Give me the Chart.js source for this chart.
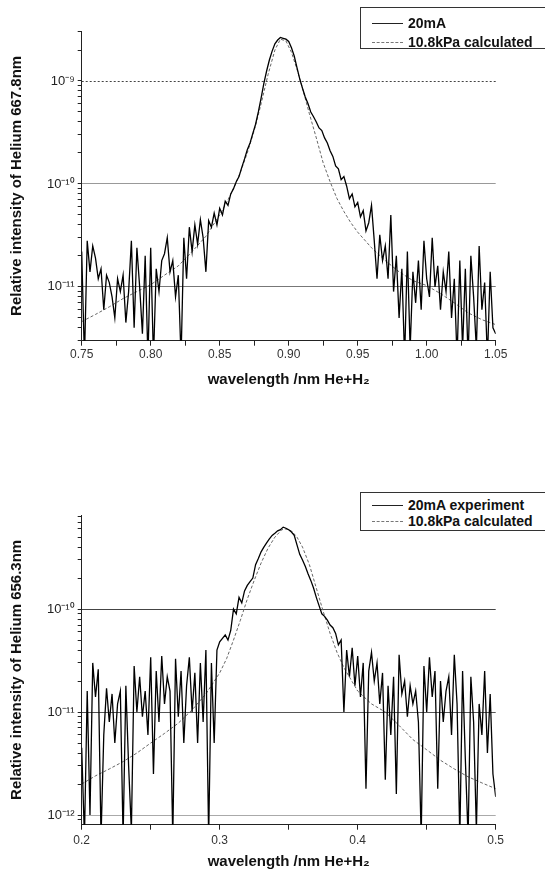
<!DOCTYPE html>
<html>
<head>
<meta charset="utf-8">
<title>Helium line profiles</title>
<script src="https://cdn.jsdelivr.net/npm/chart.js@4.4.1/dist/chart.umd.min.js"></script>
<style>
  html, body { margin: 0; padding: 0; background: #fff; }
  body { width: 545px; height: 872px; position: relative; overflow: hidden; font-family: "Liberation Sans", Arial, sans-serif; }
  canvas { position: absolute; left: 0; }
  #topChart { top: 0; }
  #bottomChart { top: 430px; }
  .legend { position: absolute; left: 360px; width: 200px; border: 1px solid #333; background: #fff; box-sizing: border-box; }
  .legend .row { position: absolute; left: 0; height: 18px; display: flex; align-items: center; font: bold 14px "Liberation Sans", Arial, sans-serif; color: #111; white-space: nowrap; }
  .legend .swatch { width: 31px; margin: 0 5px 0 11px; border-top: 1px solid #222; }
  .legend .swatch.calc { border-top: 1px dashed #777; }
</style>
</head>
<body>
<canvas id="topChart" width="545" height="400"></canvas>
<canvas id="bottomChart" width="545" height="442"></canvas>

<div class="legend" style="top:7px;height:42px">
  <div class="row" style="top:6px"><span class="swatch"></span>20mA</div>
  <div class="row" style="top:25px"><span class="swatch calc"></span>10.8kPa calculated</div>
</div>
<div class="legend" style="top:492px;height:39px">
  <div class="row" style="top:3px"><span class="swatch"></span>20mA experiment</div>
  <div class="row" style="top:19px"><span class="swatch calc"></span>10.8kPa calculated</div>
</div>

<script>
// intensities below are in units of 1e-12
const UNIT = 1e-12;

// ---- He 667.8 nm panel ----
const topStart = 0.75, topStep = 0.002;
const topExp = [
  22, 2, 28, 14, 25, 19, 12, 15, 6, 13,
  11, 8, 5, 12, 9, 13, 4.5, 9, 28, 4,
  24, 10, 3.5, 20, 2, 24, 2, 15, 9, 18,
  21, 30, 14, 18, 8, 13, 2, 30, 12, 38,
  22, 40, 26, 45, 30, 14, 44, 38, 52, 40,
  58, 50, 68, 62, 80, 90, 105, 118, 145, 175,
  215, 250, 310, 380, 500, 680, 950, 1250, 1600, 1950,
  2300, 2500, 2650, 2600, 2550, 2420, 2100, 1750, 1350, 1050,
  850, 700, 600, 500, 450, 400, 350, 330, 280, 250,
  210, 185, 150, 140, 110, 118, 95, 72, 80, 60,
  66, 48, 55, 35, 42, 62, 28, 12, 32, 18,
  25, 12, 50, 9, 20, 5, 15, 2, 22, 2.5,
  14, 7, 18, 6, 28, 12, 8, 30, 10, 16,
  6, 14, 9, 22, 5, 12, 2, 18, 2.5, 15,
  2, 20, 8, 2.5, 25, 6, 11, 2, 14, 4, 3.5
];
const topCalcX = [0.75, 0.76, 0.77, 0.78, 0.79, 0.80, 0.81, 0.82, 0.83, 0.84, 0.85,
  0.855, 0.86, 0.865, 0.87, 0.875, 0.88, 0.885, 0.89, 0.894, 0.898, 0.902, 0.906, 0.91,
  0.915, 0.92, 0.925, 0.93, 0.935, 0.94, 0.945, 0.95,
  0.96, 0.97, 0.98, 0.99, 1.00, 1.01, 1.02, 1.03, 1.04, 1.05];
const topCalcY = [4.6, 5.4, 6.4, 7.7, 9.0, 10.5, 13, 16, 22, 31, 50,
  66, 90, 130, 200, 330, 600, 1150, 2000, 2550, 2450, 1900, 1300, 850,
  480, 280, 160, 105, 72, 54, 42, 34,
  24, 18, 14, 11.5, 10.3, 8.6, 7.0, 5.6, 4.8, 4.3];
const topXMajor = [0.75, 0.80, 0.85, 0.90, 0.95, 1.00, 1.05];
const topXLabels = ['0.75', '0.80', '0.85', '0.90', '0.95', '1.00', '1.05'];
const topXMinor = [0.775, 0.825, 0.875, 0.925, 0.975, 1.025];
const topYDecades = [1e-11, 1e-10, 1e-9];
const topYLabels = ['10⁻¹¹', '10⁻¹⁰', '10⁻⁹'];

// ---- He 656.3 nm panel ----
const botStart = 0.20, botStep = 0.002;
const botExp = [
  4.5, 0.6, 16, 1.0, 30, 14, 26, 0.6, 6, 17,
  8, 15, 5, 12, 16, 0.6, 18, 3, 0.7, 28,
  10, 22, 9, 16, 6, 34, 2.5, 25, 8, 35,
  12, 22, 16, 0.6, 33, 9, 25, 5, 18, 34,
  10, 24, 5, 30, 8, 40, 0.6, 30, 5, 40,
  48, 52, 56, 50, 62, 100, 90, 130, 115, 150,
  170, 185, 200, 270, 310, 360, 400, 440, 480, 520,
  545, 575, 590, 625, 610, 590, 560, 520, 420, 340,
  300, 260, 220, 190, 160, 130, 108, 90, 85, 78,
  70, 66, 58, 45, 50, 10, 40, 22, 42, 18,
  35, 14, 30, 1.8, 25, 38, 20, 30, 12, 24,
  2.2, 18, 6, 22, 1.6, 36, 15, 20, 9, 18,
  12, 16, 8, 0.6, 28, 10, 34, 14, 25, 1.8,
  20, 8, 16, 22, 6, 36, 12, 0.6, 25, 3.5,
  0.6, 22, 8, 0.7, 12, 6, 25, 4, 15, 2.5, 1.5
];
const botCalcX = [0.20, 0.21, 0.22, 0.23, 0.24, 0.25, 0.26, 0.27, 0.28, 0.29, 0.30,
  0.305, 0.31, 0.315, 0.32, 0.325, 0.33, 0.335, 0.34, 0.345,
  0.348, 0.352, 0.356, 0.36, 0.365, 0.37, 0.375, 0.38, 0.385, 0.39,
  0.40, 0.41, 0.42, 0.43, 0.44, 0.45, 0.46, 0.47, 0.48, 0.49, 0.50];
const botCalcY = [2.0, 2.4, 2.8, 3.3, 4.0, 5.0, 6.2, 7.8, 10.5, 15, 24,
  33, 50, 78, 125, 190, 280, 390, 500, 590,
  600, 575, 500, 400, 270, 160, 95, 58, 38, 27,
  16, 12, 10, 7.4, 5.4, 4.3, 3.4, 2.8, 2.35, 2.05, 1.8];
const botXMajor = [0.2, 0.3, 0.4, 0.5];
const botXLabels = ['0.2', '0.3', '0.4', '0.5'];
const botXMinor = [0.25, 0.35, 0.45];
const botYDecades = [1e-12, 1e-11, 1e-10];
const botYLabels = ['10⁻¹²', '10⁻¹¹', '10⁻¹⁰'];

Chart.defaults.font.family = '"Liberation Sans", Arial, sans-serif';

function expPoints(start, step, vals) {
  return vals.map((v, i) => ({ x: +(start + i * step).toFixed(4), y: v * UNIT }));
}

function calcPoints(xs, ys) {
  return xs.map((x, i) => ({ x: x, y: ys[i] * UNIT }));
}

function findIdx(list, v) {
  return list.findIndex(d => Math.abs(d - v) <= Math.abs(d) * 1e-6);
}

// 1..9 x each decade, major only on the decades
function logTicks(min, max) {
  const out = [];
  for (let e = -13; e <= -8; e++) {
    for (let m = 1; m <= 9; m++) {
      const v = Number(m + 'e' + e);
      if (v >= min && v <= max) out.push({ value: v, major: m === 1 });
    }
  }
  return out;
}

// one gridline drawn dashed (the 1e-9 line on the upper panel)
const dashedGrid = {
  id: 'dashedGrid',
  beforeDatasetsDraw(chart, args, opts) {
    if (!opts.value) return;
    const { ctx, chartArea: a, scales } = chart;
    const py = Math.round(scales.y.getPixelForValue(opts.value)) + 0.5;
    ctx.save();
    ctx.strokeStyle = opts.color;
    ctx.lineWidth = 1;
    ctx.setLineDash(opts.dash);
    ctx.beginPath();
    ctx.moveTo(a.left, py);
    ctx.lineTo(a.right, py);
    ctx.stroke();
    ctx.restore();
  }
};

function spectrumChart(id, c) {
  const el = document.getElementById(id);
  if (!el || typeof Chart === 'undefined') return;
  new Chart(el.getContext('2d'), {
    type: 'line',
    data: {
      datasets: [
        {
          label: c.expLabel,
          data: expPoints(c.start, c.step, c.exp),
          borderColor: '#000',
          borderWidth: 1.3,
          pointRadius: 0,
          tension: 0
        },
        {
          label: '10.8kPa calculated',
          data: calcPoints(c.calcX, c.calcY),
          borderColor: '#666',
          borderWidth: 1,
          borderDash: [3, 2],
          pointRadius: 0,
          tension: 0
        }
      ]
    },
    options: {
      responsive: false,
      animation: false,
      events: [],
      layout: { padding: c.pad },
      plugins: {
        legend: { display: false },
        tooltip: { enabled: false },
        dashedGrid: { value: c.dashedAt, color: '#444', dash: [2, 2] }
      },
      scales: {
        x: {
          type: 'linear',
          min: c.xMajor[0],
          max: c.xMajor[c.xMajor.length - 1],
          afterFit: s => { s.height = c.xHeight; },
          afterBuildTicks: s => {
            s.ticks = c.xMajor.map(v => ({ value: v, major: true }))
              .concat(c.xMinor.map(v => ({ value: v, major: false })))
              .sort((p, q) => p.value - q.value);
          },
          ticks: {
            autoSkip: false,
            maxRotation: 0,
            padding: c.xTickPad,
            color: '#333',
            font: { size: 12 },
            callback: (v) => {
              const i = findIdx(c.xMajor, v);
              return i >= 0 ? c.xLabels[i] : '';
            }
          },
          grid: { drawOnChartArea: false, tickLength: 5, tickColor: '#222' },
          border: { color: '#222', width: 1 },
          title: {
            display: true,
            text: 'wavelength /nm He+H₂',
            color: '#111',
            font: { size: 15, weight: 'bold' },
            padding: { top: 0, bottom: c.xTitlePad }
          }
        },
        y: {
          type: 'logarithmic',
          min: c.yMin,
          max: c.yMax,
          afterFit: s => { s.width = c.yWidth; },
          afterBuildTicks: s => { s.ticks = logTicks(c.yMin, c.yMax); },
          ticks: {
            autoSkip: false,
            padding: 3,
            color: '#222',
            font: { size: 13 },
            callback: (v, i, ticks) => {
              if (!ticks[i].major) return '';
              const k = findIdx(c.yDecades, v);
              return k >= 0 ? c.yLabels[k] : '';
            }
          },
          grid: {
            tickLength: 4,
            tickColor: '#222',
            lineWidth: 1,
            color: ctx => {
              const t = ctx.tick;
              if (!t || !t.major) return 'transparent';
              if (c.dashedAt && findIdx([c.dashedAt], t.value) === 0) return 'transparent';
              const k = findIdx(c.yDecades, t.value);
              return k >= 0 ? c.gridColors[k] : 'transparent';
            }
          },
          border: { color: '#222', width: 1 },
          title: {
            display: true,
            text: c.yTitle,
            color: '#111',
            font: { size: 15, weight: 'bold' },
            padding: { top: 8, bottom: 0 }
          }
        }
      }
    },
    plugins: [dashedGrid]
  });
}

document.addEventListener('DOMContentLoaded', function () {
  spectrumChart('topChart', {
    expLabel: '20mA',
    start: topStart, step: topStep, exp: topExp,
    calcX: topCalcX, calcY: topCalcY,
    xMajor: topXMajor, xLabels: topXLabels, xMinor: topXMinor,
    yDecades: topYDecades, yLabels: topYLabels,
    yMin: 3.0e-12, yMax: 3.06e-9,
    yTitle: 'Relative intensity of Helium 667.8nm',
    gridColors: ['#777', '#999', '#444'],
    dashedAt: 1e-9,
    pad: { top: 31, right: 49.3, bottom: 0, left: 0 },
    yWidth: 81.7, xHeight: 59.3, xTickPad: 2, xTitlePad: 11
  });
  spectrumChart('bottomChart', {
    expLabel: '20mA experiment',
    start: botStart, step: botStep, exp: botExp,
    calcX: botCalcX, calcY: botCalcY,
    xMajor: botXMajor, xLabels: botXLabels, xMinor: botXMinor,
    yDecades: botYDecades, yLabels: botYLabels,
    yMin: 0.805e-12, yMax: 8.2e-10,
    yTitle: 'Relative intensity of Helium 656.3nm',
    gridColors: ['#aaa', '#555', '#444'],
    dashedAt: null,
    pad: { top: 85, right: 49.3, bottom: 0, left: 0 },
    yWidth: 81.7, xHeight: 47.3, xTickPad: 4, xTitlePad: 1
  });
});
</script>
</body>
</html>
